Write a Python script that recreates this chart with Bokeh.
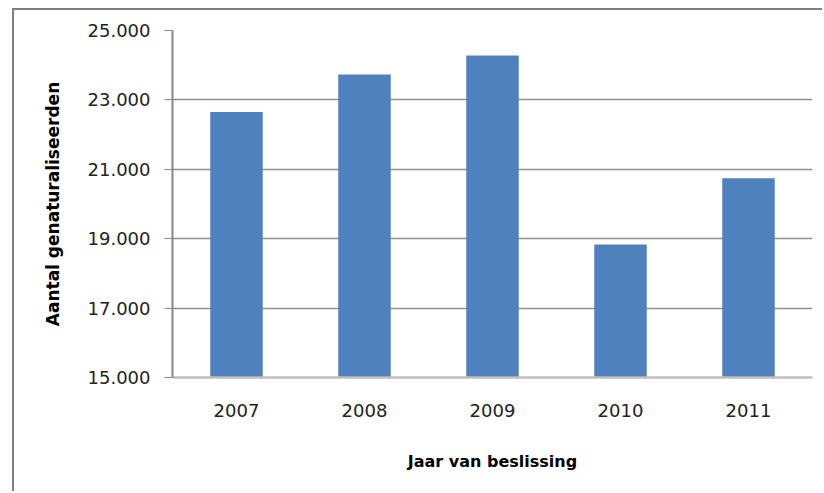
from bokeh.plotting import figure
from bokeh.models import FixedTicker, ColumnDataSource
from bokeh.embed import file_html
from bokeh.resources import INLINE

# Data
years = ["2007", "2008", "2009", "2010", "2011"]
naturalised = [22650, 23730, 24280, 18830, 20740]
y_ticks = [15000, 17000, 19000, 21000, 23000, 25000]
y_tick_labels = ["15.000", "17.000", "19.000", "21.000", "23.000", "25.000"]
x_title = "Jaar van beslissing"
y_title = "Aantal genaturaliseerden"

source = ColumnDataSource(data=dict(year=years, value=naturalised))

p = figure(
    width=810, height=483,
    x_range=years, y_range=(15000, 25000),
    output_backend="svg", toolbar_location=None,
    min_border_left=158, min_border_right=12,
    min_border_top=20, min_border_bottom=116,
)
# chart-area border on the left and top, as in the original document
p.styles = {
    "margin-left": "12px",
    "margin-top": "8px",
    "border-left": "2px solid #808080",
    "border-top": "2px solid #808080",
}
p.x_range.range_padding = 0
p.outline_line_color = None
p.background_fill_color = "white"
p.border_fill_color = "white"

p.vbar(x="year", top="value", bottom=15000, width=0.41, source=source,
       fill_color="#4F81BD", line_color=None)

# y axis
p.yaxis.ticker = FixedTicker(ticks=y_ticks)
p.yaxis.major_label_overrides = {t: l for t, l in zip(y_ticks, y_tick_labels)}
p.yaxis.minor_tick_line_color = None
p.yaxis.major_tick_in = 0
p.yaxis.major_tick_out = 8
p.yaxis.major_tick_line_color = "#8a8a8a"
p.yaxis.axis_line_color = "#868686"
p.yaxis.axis_line_width = 2
p.yaxis.major_label_text_font = "DejaVu Sans"
p.yaxis.major_label_text_font_size = "18px"
p.yaxis.major_label_text_color = "#222222"
p.yaxis.major_label_standoff = 14
p.yaxis.axis_label = y_title
p.yaxis.axis_label_text_font = "DejaVu Sans"
p.yaxis.axis_label_text_font_style = "bold"
p.yaxis.axis_label_text_font_size = "17px"
p.yaxis.axis_label_text_color = "black"
p.yaxis.axis_label_standoff = 22

# x axis
p.xaxis.major_tick_line_color = None
p.xaxis.minor_tick_line_color = None
p.xaxis.major_tick_in = 0
p.xaxis.major_tick_out = 0
p.xaxis.axis_line_color = "#bebebe"
p.xaxis.axis_line_width = 2.5
p.xaxis.major_label_text_font = "DejaVu Sans"
p.xaxis.major_label_text_font_size = "18px"
p.xaxis.major_label_text_color = "#222222"
p.xaxis.major_label_standoff = 26
p.xaxis.axis_label = x_title
p.xaxis.axis_label_text_font = "DejaVu Sans"
p.xaxis.axis_label_text_font_style = "bold"
p.xaxis.axis_label_text_font_size = "16px"
p.xaxis.axis_label_text_color = "black"
p.xaxis.axis_label_standoff = 32

# grid
p.xgrid.grid_line_color = None
p.ygrid.ticker = FixedTicker(ticks=y_ticks[1:-1])
p.ygrid.grid_line_color = "#8f8f8f"
p.ygrid.grid_line_width = 1.3

open("out.html", "w").write(file_html(p, INLINE))
